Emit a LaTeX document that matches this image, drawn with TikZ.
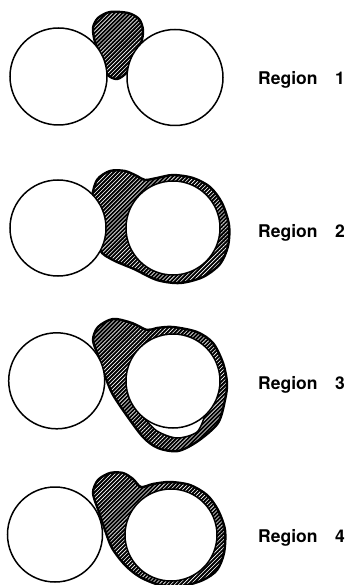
\documentclass[tikz,border=0pt]{standalone}
\usepackage{fontspec}
\newfontfamily\lblfont{TeX Gyre Heros}
\usetikzlibrary{patterns.meta}

\begin{document}
\begin{tikzpicture}[
  x=1pt, y=-1pt,
  ring/.style={draw, line width=1.5pt, fill=white},
  blob/.style={preaction={fill=black},
               pattern={Lines[angle=45, distance=2.8pt, line width=0.6pt]},
               pattern color=white, draw, line width=2.4pt},
  lbl/.style={anchor=base west, inner sep=0pt,
              font=\lblfont\bfseries\fontsize{17.5}{20}\selectfont},
]
\useasboundingbox (0,0) rectangle (348,585);

%% Region 1
\draw[blob] plot[smooth cycle] coordinates {(93,28) (98,18) (110,12) (128,13)
  (139,19) (143,30) (141,43) (133,58) (127,72) (117,79) (107,74) (101,57) (95,42)};
\draw[ring] (58.5,76.5) circle[radius=48.5];
\draw[ring] (175,77.5) circle[radius=48];
\node[lbl] (reg1) at (258,84.5) {Region\quad 1};

%% Region 2
\draw[blob] plot[smooth cycle] coordinates {(92,200) (97,180) (110,171) (125,171)
  (137,176) (145,180) (157,178) (173,175) (193,178) (210,187) (222,203) (229,225)
  (228,246) (220,264) (203,277) (180,283) (157,280) (134,269) (113,260) (100,250)
  (97,225)};
\draw[ring] (58,228) circle[radius=48];
\draw[ring] (173,228) circle[radius=47];
\node[lbl] (reg2) at (258,237) {Region\quad 2};

%% Region 3 (white lens under the ring)
\draw[blob] plot[smooth cycle] coordinates {(93,340) (98,327) (113,319) (132,323)
  (147,330) (157,328) (173,327) (197,332) (213,343) (223,363) (227,383) (225,400)
  (218,423) (198,441) (178,451) (158,448) (143,437) (125,413) (112,393) (104,373)
  (98,355)};
\draw[ring] plot[smooth] coordinates {(143,417) (157,431) (177,438) (197,432)
  (205,415)} -- (173,395) -- cycle;
\draw[ring] (56.7,380.8) circle[radius=48];
\draw[ring] (173,381) circle[radius=47];
\node[lbl] (reg3) at (258,389.5) {Region\quad 3};

%% Region 4
\draw[blob] plot[smooth cycle] coordinates {(93,493) (98,480) (110,473) (123,473)
  (133,479) (141,487) (153,484) (170,482) (190,485) (207,495) (218,510) (225,530)
  (224,553) (217,570) (203,580) (182,586) (160,585) (140,577) (125,565) (112,548)
  (105,530) (99,512)};
\draw[ring] (55,534.5) circle[radius=47.5];
\draw[ring] (171,535) circle[radius=46];
\node[lbl] (reg4) at (258,542.5) {Region\quad 4};
\end{tikzpicture}
\end{document}
